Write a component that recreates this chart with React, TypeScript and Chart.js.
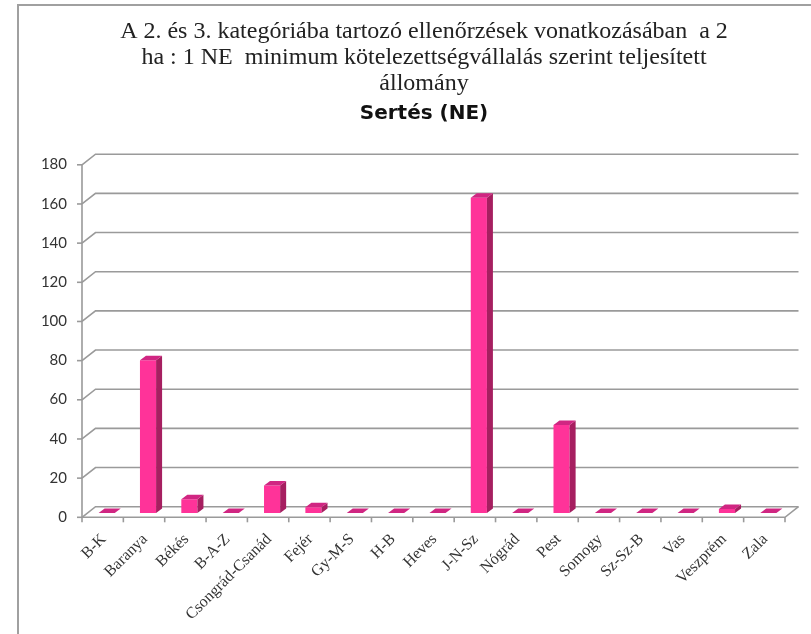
import React, { useEffect, useRef } from 'react';
import { Chart, registerables } from 'chart.js';

Chart.register(...registerables);

const categories = [
  'B-K', 'Baranya', 'Békés', 'B-A-Z', 'Csongrád-Csanád', 'Fejér', 'Gy-M-S', 'H-B', 'Heves',
  'J-N-Sz', 'Nógrád', 'Pest', 'Somogy', 'Sz-Sz-B', 'Vas', 'Veszprém', 'Zala',
];
const values = [0, 78, 7, 0, 14, 3, 0, 0, 0, 161, 0, 45, 0, 0, 0, 2, 0];

const titleLines = [
  'A 2. és 3. kategóriába tartozó ellenőrzések vonatkozásában  a 2',
  'ha : 1 NE  minimum kötelezettségvállalás szerint teljesített',
  'állomány',
];
const subtitleText = 'Sertés (NE)';

const yMin = 0;
const yMax = 180;
const yStep = 20;

const FRONT = { dx: -4, dy: 4.3 };
const BACK = { dx: 9.5, dy: -6.3 };
const BAR_DEPTH = { dx: 6, dy: -4.5 };
const GRID = '#9a9a9a';
const FRONT_COLOR = '#FF3399';
const SIDE_COLOR = '#A61F60';
const TOP_COLOR = '#D02682';

const threeD = {
  id: 'threeD',
  beforeDatasetsDraw(chart: any) {
    const { ctx, chartArea } = chart;
    const x = chart.scales.x;
    const y = chart.scales.y;
    const L = chartArea.left;
    const R = chartArea.right;
    ctx.save();
    ctx.strokeStyle = GRID;
    ctx.lineWidth = 1.6;
    y.ticks.forEach((t: any) => {
      const py = y.getPixelForValue(t.value);
      ctx.beginPath();
      ctx.moveTo(L + FRONT.dx, py + FRONT.dy);
      ctx.lineTo(L + BACK.dx, py + BACK.dy);
      ctx.lineTo(R + BACK.dx, py + BACK.dy);
      ctx.stroke();
      ctx.beginPath();
      ctx.moveTo(L + FRONT.dx - 5, py + FRONT.dy);
      ctx.lineTo(L + FRONT.dx, py + FRONT.dy);
      ctx.stroke();
    });
    const y0 = y.getPixelForValue(yMin);
    const yTop = y.getPixelForValue(yMax);
    ctx.beginPath();
    ctx.moveTo(L + FRONT.dx, yTop + FRONT.dy);
    ctx.lineTo(L + FRONT.dx, y0 + FRONT.dy);
    ctx.lineTo(R + FRONT.dx, y0 + FRONT.dy);
    ctx.lineTo(R + BACK.dx, y0 + BACK.dy);
    ctx.stroke();
    const n = categories.length;
    for (let i = 0; i <= n; i++) {
      const px = x.left + (x.width * i) / n + FRONT.dx;
      ctx.beginPath();
      ctx.moveTo(px, y0 + FRONT.dy);
      ctx.lineTo(px, y0 + FRONT.dy + 5);
      ctx.stroke();
    }
    ctx.restore();
  },
  afterDatasetsDraw(chart: any) {
    const { ctx } = chart;
    const meta = chart.getDatasetMeta(0);
    ctx.save();
    meta.data.forEach((bar: any) => {
      const p = bar.getProps(['x', 'y', 'base', 'width'], true);
      const x0 = p.x - p.width / 2;
      const x1 = p.x + p.width / 2;
      const top = p.y;
      const base = p.base;
      if (base - top > 0.5) {
        ctx.fillStyle = SIDE_COLOR;
        ctx.beginPath();
        ctx.moveTo(x1, top);
        ctx.lineTo(x1 + BAR_DEPTH.dx, top + BAR_DEPTH.dy);
        ctx.lineTo(x1 + BAR_DEPTH.dx, base + BAR_DEPTH.dy);
        ctx.lineTo(x1, base);
        ctx.closePath();
        ctx.fill();
      }
      ctx.fillStyle = TOP_COLOR;
      ctx.beginPath();
      ctx.moveTo(x0, top);
      ctx.lineTo(x1, top);
      ctx.lineTo(x1 + BAR_DEPTH.dx, top + BAR_DEPTH.dy);
      ctx.lineTo(x0 + BAR_DEPTH.dx, top + BAR_DEPTH.dy);
      ctx.closePath();
      ctx.fill();
    });
    ctx.restore();
  },
};

export default function App() {
  const canvasRef = useRef<HTMLCanvasElement | null>(null);

  useEffect(() => {
    if (!canvasRef.current) return;
    const chart = new Chart(canvasRef.current, {
      type: 'bar',
      data: {
        labels: categories,
        datasets: [
          {
            data: values,
            backgroundColor: FRONT_COLOR,
            borderWidth: 0,
            categoryPercentage: 1,
            barPercentage: 0.39,
          },
        ],
      },
      plugins: [threeD],
      options: {
        responsive: false,
        animation: false,
        layout: { padding: { top: 0, left: 0, right: 0, bottom: 0 } },
        plugins: {
          legend: { display: false },
          tooltip: { enabled: false },
          title: {
            display: true,
            text: titleLines,
            color: '#222',
            font: { family: 'Liberation Serif', size: 24, weight: 'normal', lineHeight: 1.1 },
            padding: { top: 18.1, bottom: 0 },
          },
          subtitle: {
            display: true,
            text: subtitleText,
            color: '#111',
            font: { family: 'DejaVu Sans', size: 20, weight: 'bold', lineHeight: 1.2 },
            padding: { top: 4.5, bottom: 34.7 },
          },
        },
        scales: {
          x: {
            grid: { display: false, drawTicks: false },
            border: { display: false },
            ticks: {
              autoSkip: false,
              minRotation: 45,
              maxRotation: 45,
              color: '#333',
              font: { family: 'Liberation Serif', size: 16 },
              padding: 17,
              labelOffset: -3,
            },
            afterFit: (s: any) => {
              s.height = 121;
            },
          },
          y: {
            min: yMin,
            max: yMax,
            grid: { display: false, drawTicks: false },
            border: { display: false },
            ticks: {
              stepSize: yStep,
              color: '#333',
              font: { family: 'Lato', size: 15 },
              padding: 19,
              labelOffset: 4,
            },
            afterFit: (s: any) => {
              s.width = 86;
            },
          },
          yRight: {
            type: 'linear',
            position: 'right',
            display: true,
            grid: { display: false, drawTicks: false },
            border: { display: false },
            ticks: { display: false },
            afterFit: (s: any) => {
              s.width = 59;
            },
          },
        },
      } as any,
    });
    return () => chart.destroy();
  }, []);

  return (
    <div
      style={{
        position: 'fixed',
        left: 0,
        top: 0,
        width: 811,
        height: 634,
        overflow: 'hidden',
        background: '#fff',
      }}
    >
      <div
        style={{
          position: 'absolute',
          left: 17,
          top: 4,
          width: 900,
          height: 700,
          borderLeft: '2px solid #a0a0a0',
          borderTop: '2px solid #a0a0a0',
        }}
      />
      <canvas
        ref={canvasRef}
        width={848}
        height={634}
        style={{ position: 'absolute', left: 0, top: 0 }}
      />
    </div>
  );
}
